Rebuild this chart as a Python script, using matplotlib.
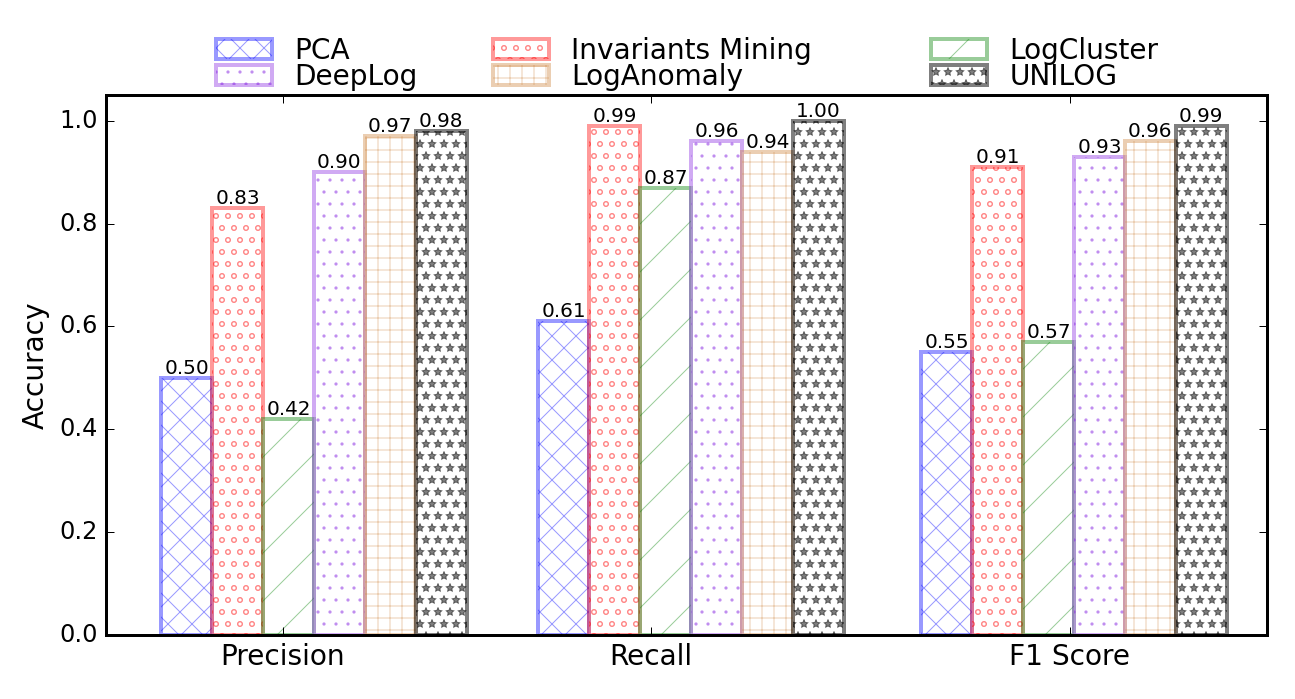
import matplotlib
matplotlib.use("Agg")
import matplotlib.pyplot as plt
import numpy as np

plt.style.use('classic')
plt.rcParams['font.family'] = ['DejaVu Sans']
plt.rcParams['hatch.linewidth'] = 0.5

metrics = ["Precision", "Recall", "F1 Score"]
methods = ["PCA", "Invariants Mining", "LogCluster", "DeepLog", "LogAnomaly", "UNILOG"]
pca = [0.50, 0.61, 0.55]
invariants_mining = [0.83, 0.99, 0.91]
logcluster = [0.42, 0.87, 0.57]
deeplog = [0.90, 0.96, 0.93]
loganomaly = [0.97, 0.94, 0.96]
unilog = [0.98, 1.00, 0.99]
series = [pca, invariants_mining, logcluster, deeplog, loganomaly, unilog]

colors = ['b', 'r', 'g', 'blueviolet', 'peru', 'k']
alphas = [0.4, 0.4, 0.4, 0.4, 0.4, 0.5]
hatches = ['xx', 'oo', '/', '..', '++', '**']

group_left = np.array([0.0, 0.993, 2.0])
width = 0.134
tick_pos = [0.32, 1.288, 2.391]

fig = plt.figure(figsize=(1295 / 144, 699 / 144), dpi=144)
ax = fig.add_axes([106 / 1295, 1 - 635 / 699, (1267 - 106) / 1295, (635 - 95) / 699])

handles = []
for k, (vals, c, a, h, name) in enumerate(zip(series, colors, alphas, hatches, methods)):
    x = group_left + k * width
    bars = ax.bar(x, vals, width, align='edge', facecolor='white', edgecolor=c,
                  hatch=h, alpha=a, linewidth=2, label=name)
    handles.append(bars)
    for xi, v in zip(x, vals):
        ax.text(xi + width / 2, v, '%.2f' % v, ha='center', va='bottom', fontsize=10)

ax.set_xlim(-0.145, 2.91)
ax.set_ylim(0, 1.05)
ax.set_yticks(np.arange(0, 1.01, 0.2))
ax.set_yticklabels(['%.1f' % t for t in np.arange(0, 1.01, 0.2)], fontsize=12)
ax.set_xticks(tick_pos)
ax.set_xticklabels(metrics, fontsize=14)
ax.set_ylabel('Accuracy', fontsize=14)
for s in ax.spines.values():
    s.set_linewidth(1.5)

order = [0, 3, 1, 4, 2, 5]
labels = [methods[i] for i in order]
labels[2] = labels[2] + '     '
leg = ax.legend([handles[i] for i in order], labels,
                ncol=3, loc='lower center', bbox_to_anchor=(0.5007, 0.9615),
                frameon=False, fontsize=14, labelspacing=-0.07,
                columnspacing=2.68, handlelength=2.0, handletextpad=0.8)

fig.savefig('out.png', dpi=144)
